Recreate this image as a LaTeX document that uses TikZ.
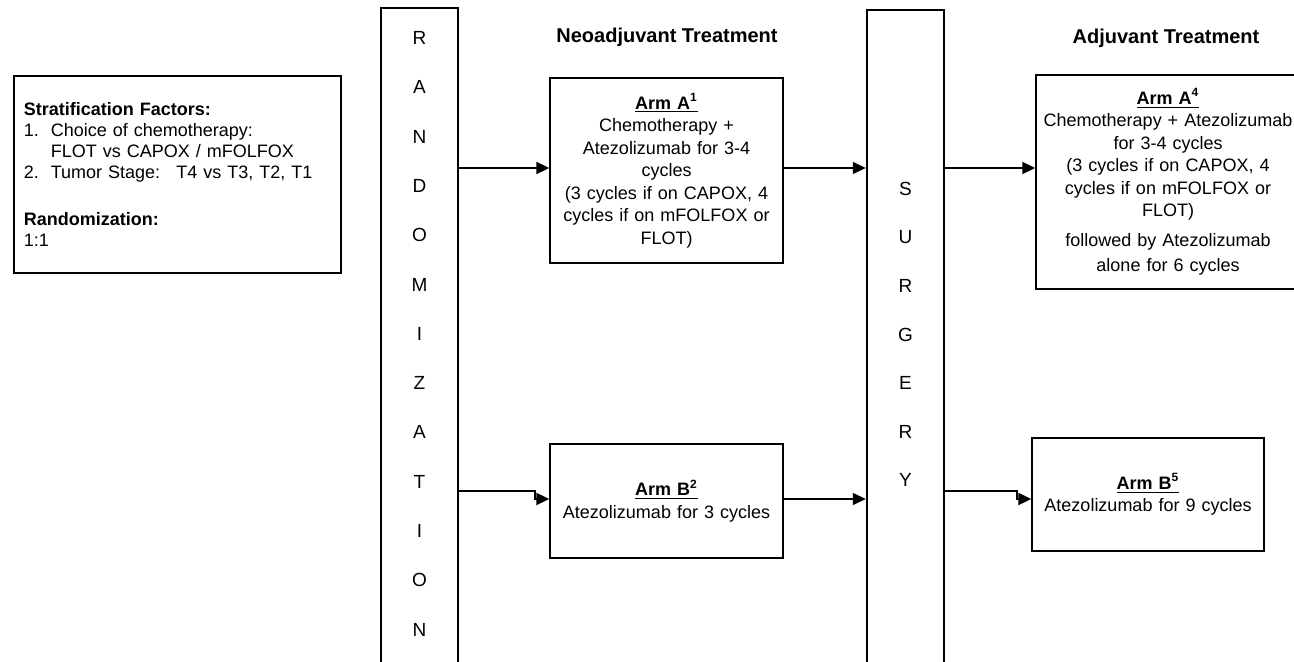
\documentclass[tikz,border=0pt]{standalone}
\usepackage{fontspec}
\setmainfont{Liberation Sans}
\usetikzlibrary{arrows.meta,calc}

\tikzset{
  column/.style={draw, line width=1.2pt, minimum width=38.5pt, inner sep=0pt},
  armbox/.style={draw, line width=0.7pt, align=center, inner sep=0pt, font=\fontsize{9}{11.25}\selectfont},
  arr/.style={line width=1pt, -{Triangle[length=6.5pt,width=6pt]}},
  arrthin/.style={arr, line width=0.65pt},
  phase/.style={font=\fontsize{10}{12}\selectfont\bfseries},
  letter/.style={font=\fontsize{9.5}{11}\selectfont, inner sep=0pt},
}
\newcommand{\armhead}[2]{\underline{\textbf{Arm #1\textsuperscript{#2}}}}

\begin{document}
\begin{tikzpicture}[x=0.5pt,y=-0.5pt]
  \useasboundingbox (0,0) rectangle (1294,662);
  \coordinate (rowA) at (0,168);
  \coordinate (rowBup) at (0,491);
  \coordinate (rowB) at (0,499);

  % stratification
  \node[draw, line width=0.8pt, anchor=north west, minimum width=163.5pt, minimum height=98.5pt,
        inner xsep=5pt, text width=153.5pt, align=left, font=\fontsize{9}{10.5}\selectfont] (strat) at (13,75)
    {\textbf{Stratification Factors:}\\
     \makebox[13.5pt][l]{1.}Choice of chemotherapy:\\
     \hspace*{13.5pt}FLOT vs CAPOX / mFOLFOX\\
     \makebox[13.5pt][l]{2.}Tumor Stage:\hspace{0.9em}T4 vs T3, T2, T1\\[13pt]
     \textbf{Randomization:}\\
     1:1};

  % the two columns
  \node[column, minimum height=346.5pt, anchor=north] (rand) at (419.5,7) {};
  \node[column, minimum height=346pt, anchor=north] (surg) at (905.5,9) {};
  \foreach \letter [count=\i from 0] in {R,A,N,D,O,M,I,Z,A,T,I,O,N}
    \node[letter] (r\i) at (419.5,38+49.3*\i) {\letter};
  \foreach \letter [count=\i from 0] in {S,U,R,G,E,R,Y}
    \node[letter] (s\i) at (905.5,189+48.5*\i) {\letter};

  \node[phase] (neo) at (667,37) {Neoadjuvant Treatment};
  \node[phase] (adj) at (1166,38) {Adjuvant Treatment};

  % arms
  \node[armbox, minimum width=116.5pt, minimum height=92.5pt, text width=112pt] (armA) at (666.5,170.5)
    {\armhead{A}{1}\\ Chemotherapy +\\ Atezolizumab for 3-4\\ cycles\\
     (3 cycles if on CAPOX, 4\\ cycles if on mFOLFOX or\\ FLOT)};
  \node[armbox, minimum width=132pt, minimum height=107pt, text width=130pt] (armAfour) at (1168,182)
    {\armhead{A}{4}\\ Chemotherapy + Atezolizumab\\ for 3-4 cycles\\
     (3 cycles if on CAPOX, 4\\ cycles if on mFOLFOX or\\ FLOT)\\[3.75pt]
     followed by Atezolizumab\\[1.25pt] alone for 6 cycles};
  \node[armbox, minimum width=116.5pt, minimum height=57pt, text width=112pt] (armB) at (666.5,501)
    {\armhead{B}{2}\\ Atezolizumab for 3 cycles};
  \node[armbox, minimum width=116pt, minimum height=56.5pt, text width=112pt] (armBfive) at (1148,494.5)
    {\armhead{B}{5}\\ Atezolizumab for 9 cycles};

  % connectors
  \draw[arr] (rand.east |- rowA) -- (armA.west |- rowA);
  \draw[arrthin] (armA.east |- rowA) -- (surg.west |- rowA);
  \draw[arr] (surg.east |- rowA) -- (armAfour.west |- rowA);
  \draw[arr] (rand.east |- rowBup) -- ($(armB.west |- rowBup)+(-14,0)$) |- (armB.west |- rowB);
  \draw[arrthin] (armB.east |- rowB) -- (surg.west |- rowB);
  \draw[arr] (surg.east |- rowBup) -- ($(armBfive.west |- rowBup)+(-14,0)$) |- (armBfive.west |- rowB);
\end{tikzpicture}
\end{document}
